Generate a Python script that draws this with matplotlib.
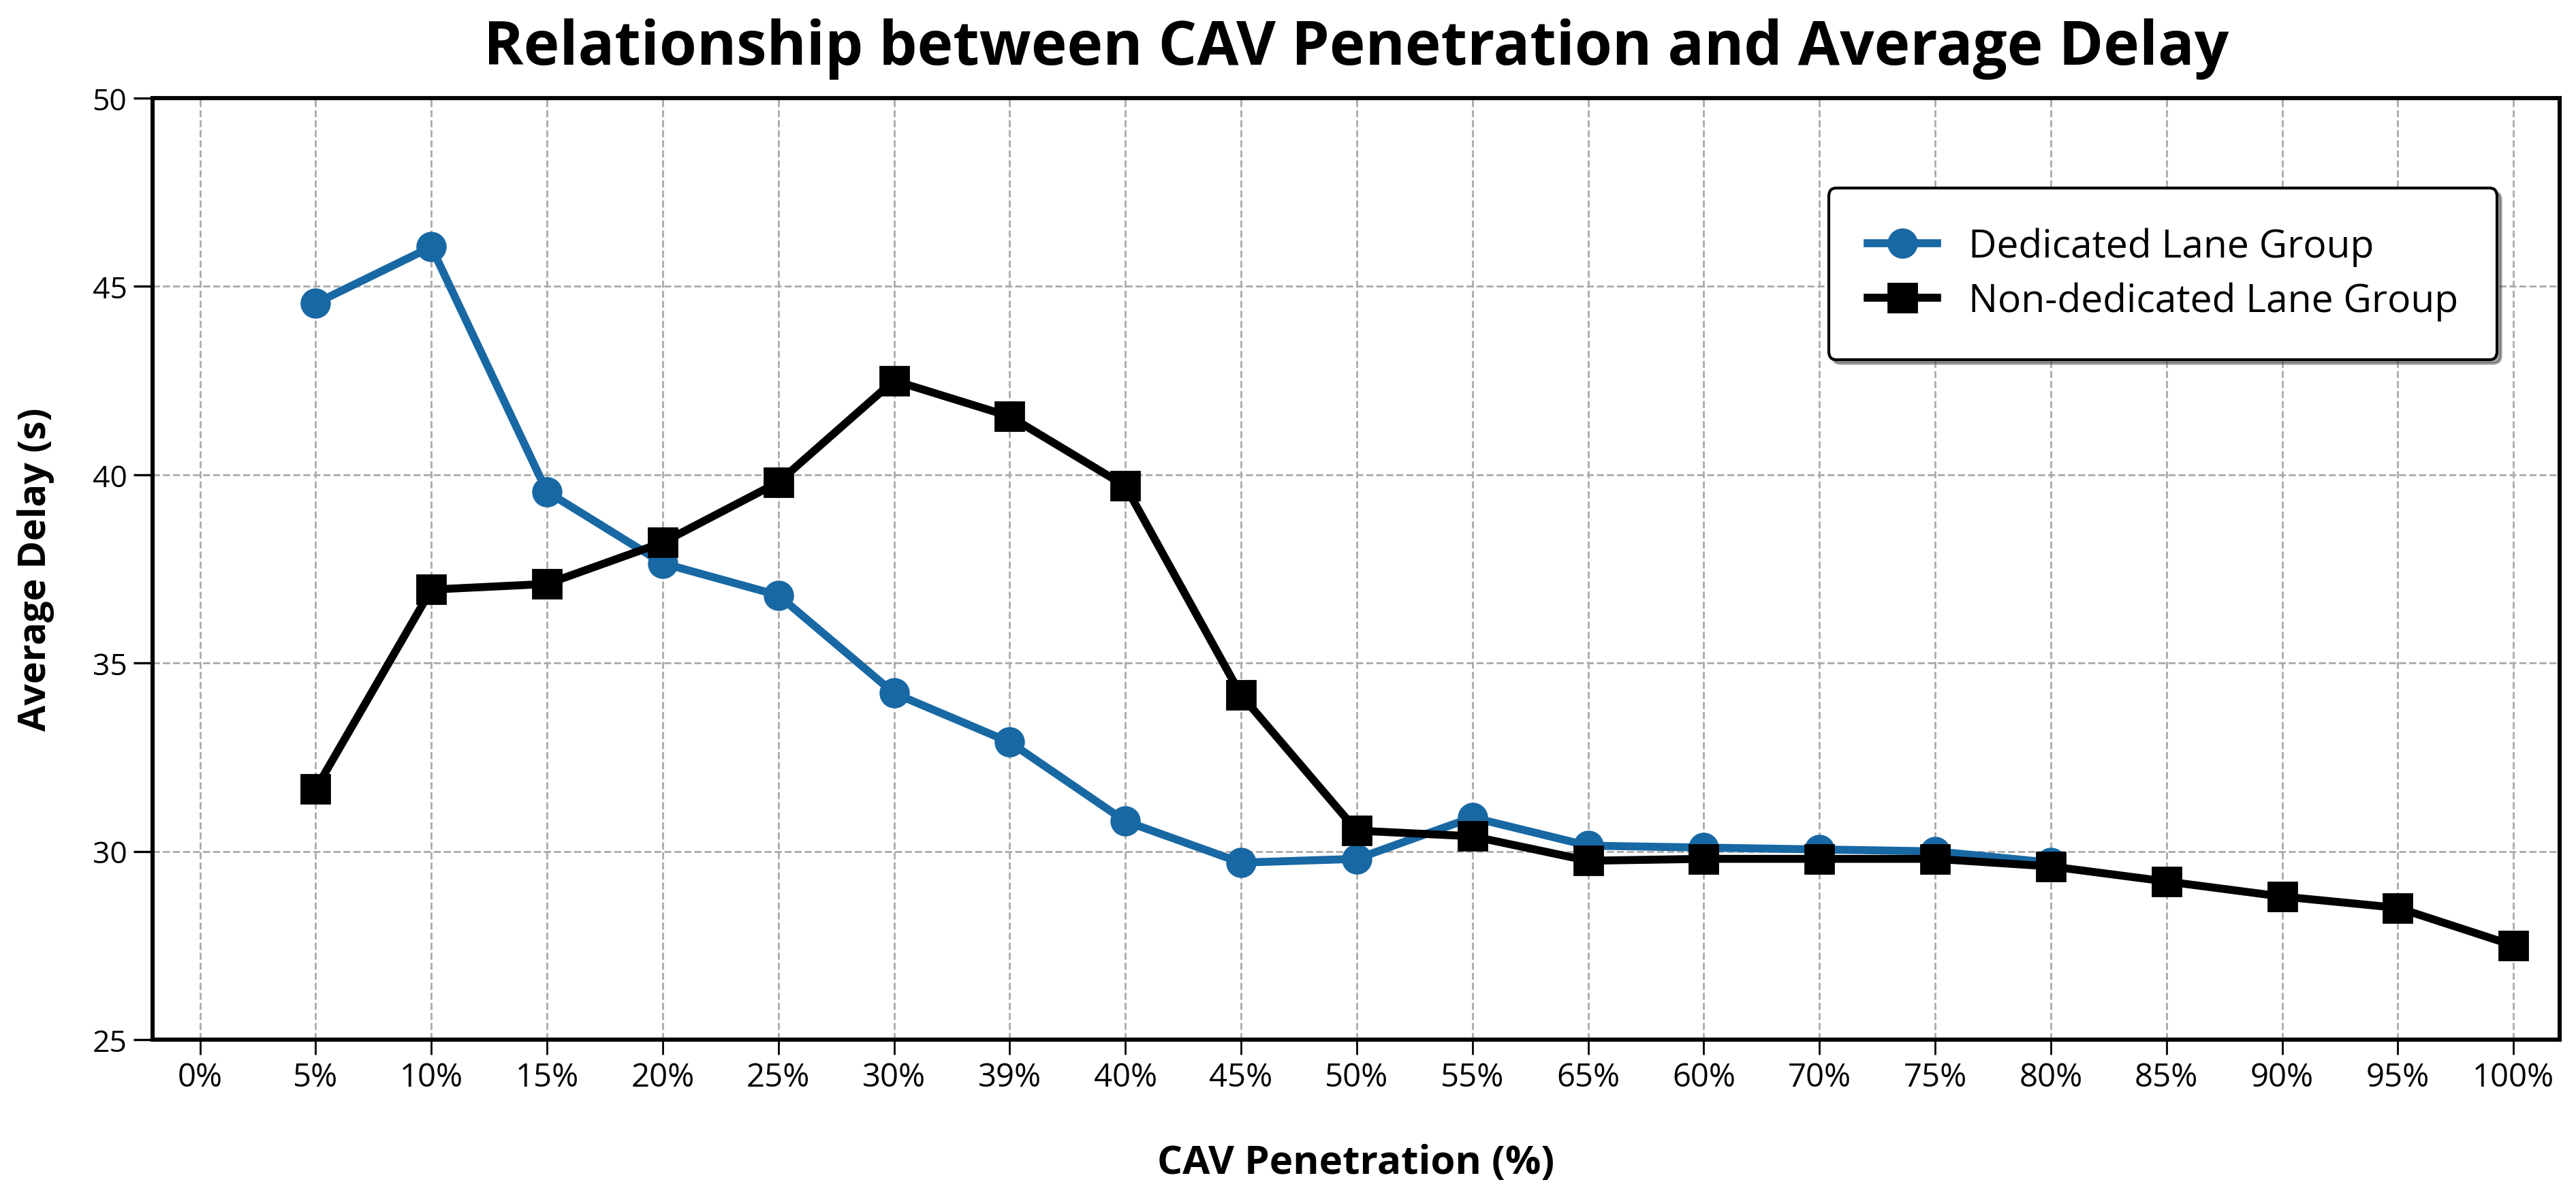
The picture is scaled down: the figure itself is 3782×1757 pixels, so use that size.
import numpy as np
import matplotlib.pyplot as plt

# x categories as printed on the chart (order kept as in the figure)
categories = ['0%', '5%', '10%', '15%', '20%', '25%', '30%', '39%', '40%', '45%', '50%',
              '55%', '65%', '60%', '70%', '75%', '80%', '85%', '90%', '95%', '100%']

# dedicated lane group: 5% .. 80%
dedicated_delay = [44.55, 46.05, 39.55, 37.65, 36.8, 34.2, 32.9, 30.8, 29.7, 29.8,
                   30.9, 30.15, 30.1, 30.05, 30.0, 29.7]
# non-dedicated lane group: 5% .. 100%
nondedicated_delay = [31.65, 36.95, 37.1, 38.2, 39.8, 42.5, 41.55, 39.7, 34.15, 30.55,
                      30.4, 29.75, 29.8, 29.8, 29.8, 29.6, 29.2, 28.8, 28.5, 27.5]

y_ticks = [25, 30, 35, 40, 45, 50]

plt.rcParams['font.family'] = ['Open Sans', 'DejaVu Sans']

fig = plt.figure(figsize=(18.91, 8.79), dpi=200)
ax = fig.add_axes([0.0592, 0.1314, 0.9345, 0.7861])

x = np.arange(len(categories))
x_ded = x[1:1 + len(dedicated_delay)]
x_non = x[1:1 + len(nondedicated_delay)]

ax.plot(x_ded, dedicated_delay, color='#1868a4', lw=4.2, marker='o', ms=15,
        label='Dedicated Lane Group', zorder=3)
ax.plot(x_non, nondedicated_delay, color='black', lw=4.2, marker='s', ms=15,
        label='Non-dedicated Lane Group', zorder=4)

ax.set_xlim(-0.41, 20.4)
ax.set_ylim(25, 50)
ax.set_xticks(x)
ax.set_xticklabels(categories, fontsize=17)
ax.set_yticks(y_ticks)
ax.tick_params(axis='y', labelsize=16, length=10, width=1.2)
ax.tick_params(axis='x', length=8, width=1.0)
ax.grid(True, linestyle='--', color='#aaaaaa', linewidth=1.0)

for s in ax.spines.values():
    s.set_linewidth(2.2)

ax.set_title('Relationship between CAV Penetration and Average Delay',
             fontsize=32, fontweight='bold', pad=18)
ax.set_xlabel('CAV Penetration (%)', fontsize=21, fontweight='bold', labelpad=26)
ax.set_ylabel('Average Delay (s)', fontsize=20, fontweight='bold', labelpad=20)

leg = ax.legend(loc='upper right', bbox_to_anchor=(0.982, 0.925), fontsize=20.5,
                frameon=True, fancybox=True, shadow=True, borderpad=1.0,
                handlelength=1.8, labelspacing=0.4)
leg.get_frame().set_edgecolor('black')
leg.get_frame().set_linewidth(1.5)

fig.savefig('out.png', dpi=200, facecolor='white')
